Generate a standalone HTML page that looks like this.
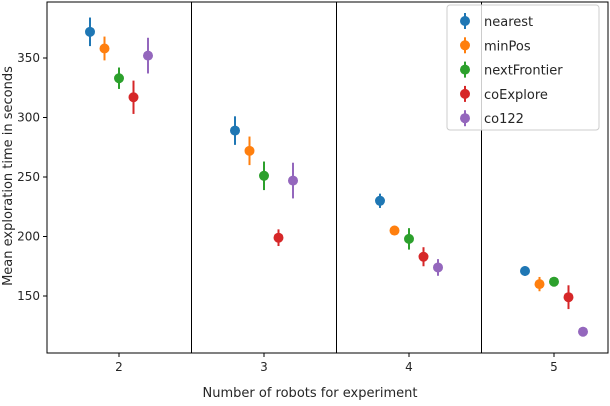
<!DOCTYPE html>
<html><head><meta charset="utf-8"><style>
body{margin:0;background:#fff;font-family:"DejaVu Sans","Liberation Sans",sans-serif}
svg text{font-family:"DejaVu Sans","Liberation Sans",sans-serif;fill:#262626}
</style></head><body>
<svg id="chart" width="610" height="402">
<rect x="47" y="2" width="561" height="351" fill="none" stroke="#000"/>
<g id="grid"></g><g id="marks"></g><g id="axes"></g>
<text x="12" y="176" transform="rotate(-90 12 176)" text-anchor="middle" font-size="13">Mean exploration time in seconds</text>
<text x="310" y="397" text-anchor="middle" font-size="13">Number of robots for experiment</text>
<g id="legend"></g>
</svg>
<script>
const robots=[2,3,4,5];
const seriesNames=["nearest","minPos","nextFrontier","coExplore","co122"];
const colors=["#1f77b4","#ff7f0e","#2ca02c","#d62728","#9467bd"];
const nearest=[372,289,230,171];
const minPos=[358,272,205,160];
const nextFrontier=[333,251,198,162];
const coExplore=[317,199,183,149];
const co122=[352,247,174,120];
const errNearest=[12,12,6,4];
const errMinPos=[10,12,4,6];
const errNextFrontier=[9,12,9,4];
const errCoExplore=[14,7,8,10];
const errCo122=[15,15,7,4];
const yTicks=[150,200,250,300,350];
const values=[nearest,minPos,nextFrontier,coExplore,co122];
const errs=[errNearest,errMinPos,errNextFrontier,errCoExplore,errCo122];
const NS="http://www.w3.org/2000/svg";
const X=v=>119+(v-2)*145;
const Y=v=>58+(350-v)*59.5/50;
function mk(tag,attrs,parent){const e=document.createElementNS(NS,tag);for(const k in attrs)e.setAttribute(k,attrs[k]);document.getElementById(parent).appendChild(e);return e;}
[2.5,3.5,4.5].forEach((b,i)=>{const l=mk('line',{x1:X(b),x2:X(b),y1:2,y2:353,stroke:'#000'},'grid');

});
yTicks.forEach(t=>{mk('line',{x1:43,x2:47,y1:Y(t),y2:Y(t),stroke:'#000'},'axes');
const tx=mk('text',{x:40,y:Y(t)+4,'text-anchor':'end','font-size':12},'axes');tx.textContent=t;

});
robots.forEach(r=>{mk('line',{x1:X(r),x2:X(r),y1:353,y2:357,stroke:'#000'},'axes');
const tx=mk('text',{x:X(r),y:371,'text-anchor':'middle','font-size':12},'axes');tx.textContent=r;

});
values.forEach((s,si)=>{s.forEach((v,i)=>{const cx=X(robots[i]+(si-2)*0.1);
const l=mk('line',{x1:cx,x2:cx,y1:Y(v+errs[si][i]),y2:Y(v-errs[si][i]),stroke:colors[si],'stroke-width':2},'marks');


const c=mk('circle',{cx:cx,cy:Y(v),r:5,fill:colors[si]},'marks');

});});
const lb=mk('rect',{x:447,y:5,width:152,height:125,rx:3,fill:'#fff',stroke:'#ccc','fill-opacity':0.8},'legend');


seriesNames.forEach((n,i)=>{const y=21+i*24.3;
mk('line',{x1:465,x2:465,y1:y-8,y2:y+8,stroke:colors[i],'stroke-width':2},'legend');
const c=mk('circle',{cx:465,cy:y,r:5,fill:colors[i]},'legend');


const t=mk('text',{x:484,y:y+5,'font-size':13},'legend');t.textContent=n;

});
</script>
</body></html>
